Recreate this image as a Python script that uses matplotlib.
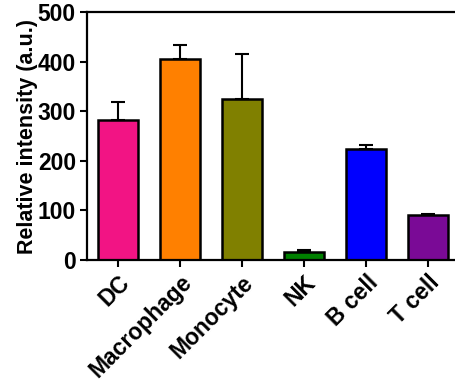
import numpy as np
import matplotlib.pyplot as plt

plt.rcParams['font.family'] = ['Liberation Sans', 'DejaVu Sans']
plt.rcParams['font.weight'] = 'bold'

cells = ['DC', 'Macrophage', 'Monocyte', 'NK', 'B cell', 'T cell']
intensity = [282, 405, 324, 16, 223, 91]
err = [37, 28, 91, 4, 9, 2]
colors = ['#F21484', '#FF8000', '#808000', '#008000', '#0000FF', '#7A0A96']

fig = plt.figure(figsize=(4.55, 3.87), dpi=100)
ax = fig.add_axes([87/455, 1-260/387, (459-87)/455, 248/387])

x = np.arange(len(cells))
ax.bar(x, intensity, width=0.66, color=colors, edgecolor='black', linewidth=1.8,
       yerr=[np.zeros(len(err)), err], error_kw=dict(elinewidth=1.5, capsize=5, capthick=1.5, ecolor='black'),
       zorder=2)

ax.set_xlim(-0.5, 5.5)
ax.set_ylim(0, 500)
ax.set_yticks([0, 100, 200, 300, 400, 500])
ax.set_xticks(x)
ax.set_xticklabels(cells, rotation=45, ha='right', rotation_mode='anchor', fontsize=16.5, fontweight='bold')
ax.tick_params(axis='both', direction='out', length=5, width=1.5, labelsize=16.5, pad=3)
for lab in ax.get_yticklabels():
    lab.set_fontweight('bold')
ax.set_ylabel('Relative intensity (a.u.)', fontsize=15.5, fontweight='bold', labelpad=0)

for s in ['left', 'bottom', 'top']:
    ax.spines[s].set_linewidth(1.6)
ax.spines['right'].set_visible(False)

fig.savefig('out.png', dpi=100)
